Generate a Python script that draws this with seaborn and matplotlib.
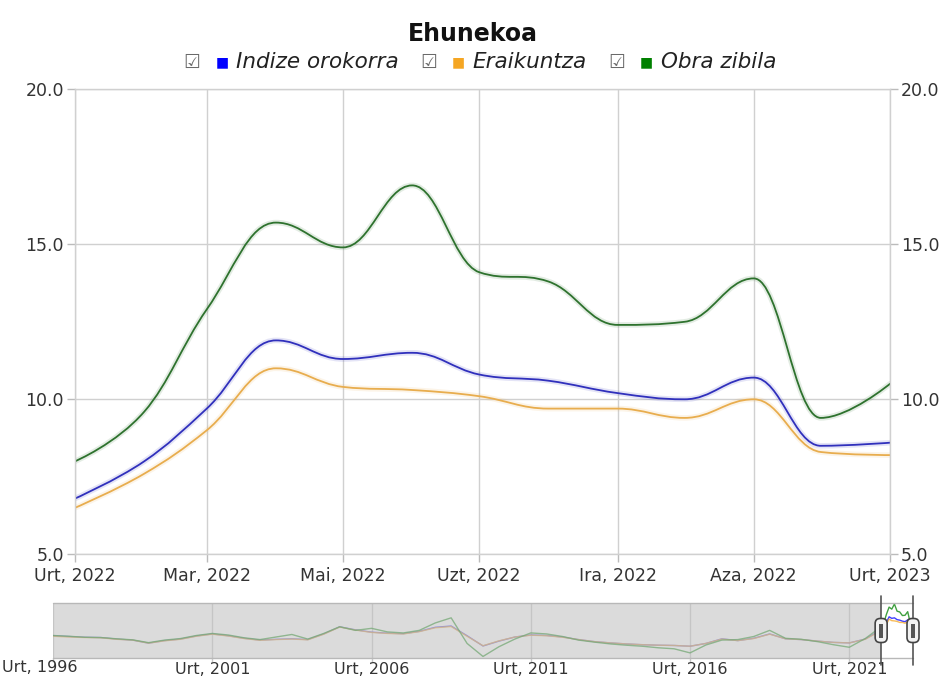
import numpy as np
import pandas as pd
import matplotlib
matplotlib.use("Agg")
import matplotlib.pyplot as plt
import matplotlib.dates as mdates
import matplotlib.transforms as mtransforms
from matplotlib.path import Path
from matplotlib.patches import PathPatch, FancyBboxPatch, Rectangle
import seaborn as sns

# ---------------- data ----------------
months = pd.date_range("2022-01-01", "2023-01-01", freq="MS")
indize_orokorra = [6.8, 8.0, 9.7, 11.9, 11.3, 11.5, 10.8, 10.6, 10.2, 10.0, 10.7, 8.5, 8.6]
eraikuntza = [6.5, 7.6, 9.0, 11.0, 10.4, 10.3, 10.1, 9.7, 9.7, 9.4, 10.0, 8.3, 8.2]
obra_zibila = [8.0, 9.6, 12.9, 15.7, 14.9, 16.9, 14.1, 13.8, 12.4, 12.5, 13.9, 9.4, 10.5]

series_names = ["Indize orokorra", "Eraikuntza", "Obra zibila"]
legend_colors = ["#0000ff", "#f5a623", "#008000"]
line_colors = ["#3030bc", "#e8ad4e", "#2e722e"]

title = "Ehunekoa"
x_tick_dates = pd.date_range("2022-01-01", "2023-01-01", freq="2MS")
x_tick_labels = ["Urt, 2022", "Mar, 2022", "Mai, 2022", "Uzt, 2022", "Ira, 2022", "Aza, 2022", "Urt, 2023"]
y_ticks = [5, 10, 15, 20]
y_tick_labels = ["5.0", "10.0", "15.0", "20.0"]

# navigator history (semi-annual)
nav_years = [1996.0, 1996.5, 1997.0, 1997.5, 1998.0, 1998.5, 1999.0, 1999.5, 2000.0, 2000.5,
             2001.0, 2001.5, 2002.0, 2002.5, 2003.0, 2003.5, 2004.0, 2004.5, 2005.0, 2005.5,
             2006.0, 2006.5, 2007.0, 2007.5, 2008.0, 2008.5, 2009.0, 2009.5, 2010.0, 2010.5,
             2011.0, 2011.5, 2012.0, 2012.5, 2013.0, 2013.5, 2014.0, 2014.5, 2015.0, 2015.5,
             2016.0, 2016.5, 2017.0, 2017.5, 2018.0, 2018.5, 2019.0, 2019.5, 2020.0, 2020.5,
             2021.0, 2021.5]
nav_indize = [4.5, 4.2, 3.9, 3.8, 3.2, 2.8, 1.6, 2.6, 3.2, 4.4,
              5.2, 4.5, 3.5, 2.8, 3.1, 3.3, 3.0, 5.2, 8.0, 6.8,
              5.9, 5.5, 5.3, 6.2, 7.8, 8.3, 4.5, 0.5, 2.4, 4.0,
              4.8, 4.6, 4.0, 3.0, 2.2, 1.7, 1.3, 1.0, 0.8, 0.7,
              0.4, 1.5, 3.3, 2.6, 3.5, 5.2, 3.3, 3.0, 2.4, 1.9,
              1.7, 3.2]
nav_eraikuntza = [4.3, 4.0, 3.8, 3.7, 3.1, 2.8, 1.6, 2.5, 3.1, 4.3,
                  5.1, 4.4, 3.4, 2.7, 3.0, 3.2, 2.9, 5.1, 7.9, 6.7,
                  5.8, 5.4, 5.2, 6.1, 7.6, 8.1, 4.3, 0.6, 2.5, 4.0,
                  4.7, 4.5, 3.9, 3.0, 2.2, 1.7, 1.3, 1.0, 0.8, 0.7,
                  0.4, 1.5, 3.2, 2.6, 3.4, 5.1, 3.3, 3.0, 2.4, 1.9,
                  1.7, 3.1]
nav_obra = [4.6, 4.3, 3.9, 3.8, 3.3, 2.9, 1.8, 2.8, 3.4, 4.6,
            5.4, 4.8, 3.7, 3.0, 4.0, 5.0, 3.2, 5.4, 8.0, 6.6,
            7.4, 6.0, 5.6, 6.6, 9.5, 11.5, 1.5, -3.6, 0.2, 3.2,
            5.6, 5.2, 4.2, 2.8, 2.0, 1.3, 0.8, 0.4, -0.2, -0.6,
            -2.2, 0.9, 2.8, 3.0, 4.2, 6.6, 3.5, 3.1, 2.2, 1.0,
            0.0, 3.4]
nav_tick_years = [1996, 2001, 2006, 2011, 2016, 2021]
nav_tick_labels = ["Urt, 1996", "Urt, 2001", "Urt, 2006", "Urt, 2011", "Urt, 2016", "Urt, 2021"]


def hc_spline(xs, ys, smoothing=1.5):
    """Highcharts-style spline path through the points."""
    n = len(xs)
    verts = [(xs[0], ys[0])]
    codes = [Path.MOVETO]
    rc_prev = (xs[0], ys[0])
    for i in range(1, n):
        x, y = xs[i], ys[i]
        if i < n - 1:
            lx, ly = xs[i - 1], ys[i - 1]
            nx, ny = xs[i + 1], ys[i + 1]
            d = smoothing + 1
            lcx = (smoothing * x + lx) / d
            lcy = (smoothing * y + ly) / d
            rcx = (smoothing * x + nx) / d
            rcy = (smoothing * y + ny) / d
            if rcx != lcx:
                corr = ((rcy - lcy) * (rcx - x)) / (rcx - lcx) + y - rcy
                lcy += corr
                rcy += corr
            if lcy > ly and lcy > y:
                lcy = max(ly, y); rcy = 2 * y - lcy
            elif lcy < ly and lcy < y:
                lcy = min(ly, y); rcy = 2 * y - lcy
            if rcy > ny and rcy > y:
                rcy = max(ny, y); lcy = 2 * y - rcy
            elif rcy < ny and rcy < y:
                rcy = min(ny, y); lcy = 2 * y - rcy
            lc, rc = (lcx, lcy), (rcx, rcy)
        else:
            lc, rc = (x, y), (x, y)
        verts += [rc_prev, lc, (x, y)]
        codes += [Path.CURVE4] * 3
        rc_prev = rc
    return Path(verts, codes)


# ---------------- figure ----------------
sns.set_theme(style="white")
plt.rcParams["font.family"] = ["DejaVu Sans"]
W, H = 946, 691
fig = plt.figure(figsize=(W / 100, H / 100), dpi=100)
fig.patch.set_facecolor("white")

grid_c = "#d0d0d0"
text_c = "#333333"

ax = fig.add_axes([75 / W, (H - 554.3) / H, 815 / W, 465 / H])
ax.set_facecolor("white")
xnum = mdates.date2num(months)
all_series = [indize_orokorra, eraikuntza, obra_zibila]
for vals, col in zip(all_series, line_colors):
    p = hc_spline(list(xnum), list(vals))
    ax.add_patch(PathPatch(p, fill=False, edgecolor=col, lw=4, alpha=0.13, capstyle="round"))
    ax.add_patch(PathPatch(p, fill=False, edgecolor=col, lw=1.3, capstyle="round"))

ax.set_xlim(mdates.date2num(months[0]), mdates.date2num(months[-1]))
ax.set_ylim(5, 20)
ax.set_xticks(mdates.date2num(x_tick_dates))
ax.set_xticklabels(x_tick_labels)
ax.set_yticks(y_ticks)
ax.set_yticklabels(y_tick_labels)
ax.grid(True, color=grid_c, lw=1)
for s in ax.spines.values():
    s.set_color(grid_c)
    s.set_linewidth(1)
ax.tick_params(axis="y", left=True, right=True, labelleft=True, labelright=True,
               length=6, width=1, color="#bbbbbb", labelsize=12.5, labelcolor=text_c, pad=2)
ax.tick_params(axis="x", bottom=True, length=6, width=1, color="#bbbbbb",
               labelsize=12.5, labelcolor=text_c, pad=3)

# title
fig.text(473 / W, (H - 34) / H, title, ha="center", va="center",
         fontsize=17, fontweight="bold", color="#111111")

# legend (custom, checkbox + square + italic label)
renderer = fig.canvas.get_renderer()
ly = (H - 62) / H
items = []
x_cursor = 0.0
for name, col in zip(series_names, legend_colors):
    cb = fig.text(0, ly, "\u2611", ha="center", va="center", fontsize=13.5, color="#6a6a6a")
    sq = fig.text(0, ly, "\u25a0", ha="center", va="center", fontsize=10, color=col)
    tx = fig.text(0, ly, name, ha="left", va="center", fontsize=15.5, style="italic", color="#222222")
    tw = tx.get_window_extent(renderer).width
    items.append((cb, sq, tx, x_cursor))
    x_cursor += 52 + tw + 22
total = x_cursor - 22
x0 = 480 - total / 2
for cb, sq, tx, off in items:
    base = x0 + off
    cb.set_x((base + 8) / W)
    sq.set_x((base + 38) / W)
    tx.set_x((base + 52) / W)

# ---------------- navigator ----------------
nav = fig.add_axes([53 / W, (H - 658) / H, 860 / W, 55 / H])
nav.set_facecolor("white")
main_years = [2022 + i / 12 for i in range(len(months))]
rows = []
for name, hist, cur in zip(series_names, [nav_indize, nav_eraikuntza, nav_obra], all_series):
    for yr, v in zip(nav_years + main_years, hist + list(cur)):
        rows.append({"year": yr, "value": v, "series": name})
nav_df = pd.DataFrame(rows)
sns.lineplot(data=nav_df, x="year", y="value", hue="series", palette=legend_colors,
             hue_order=series_names, ax=nav, legend=False, linewidth=1.0, alpha=0.75, zorder=2)
nav.set_xlim(1996, 2023)
nav.set_ylim(-4.2, 17.3)
nav.set_xlabel("")
nav.set_ylabel("")
nav.set_yticks([])
nav.set_xticks(nav_tick_years)
nav.set_xticklabels([""] + nav_tick_labels[1:])
nav.grid(True, axis="x", color="#c8c8c8", lw=1, zorder=1)
for s in nav.spines.values():
    s.set_visible(False)
nav.tick_params(axis="x", bottom=True, length=3, width=1, color="#c8c8c8",
                labelsize=11.5, labelcolor=text_c, pad=0)
nav.axvspan(1996, 2022, color="#c4c4c4", alpha=0.6, lw=0, zorder=3)
btrans = mtransforms.blended_transform_factory(nav.transData, nav.transAxes)
nav.plot([1996, 2023], [1, 1], color="#b8b8b8", lw=1, transform=btrans, zorder=4, clip_on=False)
nav.plot([1996, 2023], [0, 0], color="#b8b8b8", lw=1, transform=btrans, zorder=4, clip_on=False)
fig.text(2 / W, (H - 668) / H, nav_tick_labels[0], ha="left", va="center",
         fontsize=11.5, color=text_c)

# handles
for hx in [2022, 2023]:
    nav.plot([hx, hx], [-0.12, 1.12], color="#555555", lw=1.2, transform=btrans,
             clip_on=False, zorder=5)
    px, py = btrans.transform((hx, 0.5))
    box = FancyBboxPatch((px - 6, py - 12), 12, 24,
                         boxstyle="round,pad=0,rounding_size=5",
                         facecolor="#f2f2f2", edgecolor="#444444", lw=1.2,
                         transform=None, zorder=6)
    fig.add_artist(box)
    bar = Rectangle((px - 2, py - 7), 4, 14, facecolor="#555555", edgecolor="none",
                    transform=None, zorder=7)
    fig.add_artist(bar)

fig.savefig("out.png", dpi=100, facecolor="white")
